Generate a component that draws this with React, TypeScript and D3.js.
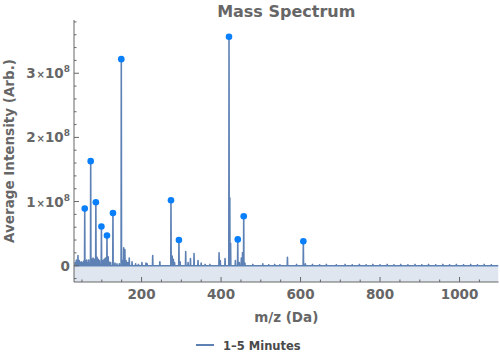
import React from "react";
import * as d3 from "d3";

// Labelled peaks (with markers): m/z and intensity in units of 1e8
const markedMz = [57, 72, 85, 99, 113, 128, 149, 274, 294, 420, 442, 457, 607];
const markedInt = [0.89, 1.63, 0.99, 0.61, 0.47, 0.82, 3.22, 1.02, 0.4, 3.57, 0.41, 0.77, 0.38];

// Smaller peaks / noise (no markers)
const minorMz = [
  33, 36, 40, 43, 46, 48, 52, 54, 60, 62, 65, 67, 75, 78, 81, 88, 91, 94, 103, 106, 109, 116, 118, 122,
  133, 138, 144, 152, 155, 158, 161, 165, 169, 176, 185, 192, 201, 211, 214, 228, 246, 277, 280, 283,
  297, 311, 317, 323, 332, 342, 350, 360, 372, 395, 398, 410, 422, 424, 436, 446, 451, 454, 460, 480,
  505, 520, 535, 548, 567, 590, 612, 630, 648, 665, 690, 712, 730, 748, 765, 782, 800, 818, 835, 852,
  870, 888, 905, 922, 940, 958, 975, 992, 1010, 1028, 1045, 1062, 1080,
];
const minorInt = [
  0.05, 0.09, 0.16, 0.08, 0.05, 0.06, 0.05, 0.07, 0.07, 0.09, 0.05, 0.09, 0.1, 0.12, 0.1, 0.13, 0.1, 0.08, 0.08, 0.1, 0.12, 0.14, 0.06, 0.05,
  0.04, 0.03, 0.03, 0.08, 0.28, 0.25, 0.08, 0.05, 0.12, 0.06, 0.03, 0.02, 0.05, 0.04, 0.03, 0.16, 0.06, 0.15, 0.1, 0.05,
  0.06, 0.22, 0.05, 0.11, 0.19, 0.08, 0.04, 0.02, 0.02, 0.2, 0.08, 0.11, 1.06, 0.35, 0.08, 0.05, 0.12, 0.2, 0.04, 0.02,
  0.03, 0.015, 0.02, 0.015, 0.13, 0.02, 0.03, 0.02, 0.015, 0.02, 0.015, 0.02, 0.015, 0.02, 0.015, 0.02, 0.015, 0.02, 0.015, 0.02,
  0.015, 0.02, 0.015, 0.02, 0.015, 0.02, 0.015, 0.02, 0.015, 0.02, 0.015, 0.02, 0.015,
];

const xTicks = [200, 400, 600, 800, 1000];
const yTicks = [0, 1, 2, 3];
const yTickMant = ["0", "1", "2", "3"];

const title = "Mass Spectrum";
const xTitle = "m/z (Da)";
const yTitle = "Average Intensity (Arb.)";
const legendLabel = "1–5 Minutes";

const W = 500;
const H = 360;
const left = 74;
const right = 498.5;
const top = 20;
const bottom = 282;

const LINE = "#5E81B5";
const DOT = "#0a7ffb";
const GRAY = "#666666";
const FONT = "'DejaVu Sans', sans-serif";

export default function App() {
  const x = d3.scaleLinear().domain([30, 1098]).range([left, right]);
  const y = d3.scaleLinear().domain([-0.254, 3.83]).range([bottom, top]);

  const peaks: [number, number][] = [];
  markedMz.forEach((m, i) => peaks.push([m, markedInt[i]]));
  minorMz.forEach((m, i) => peaks.push([m, minorInt[i]]));
  peaks.sort((a, b) => a[0] - b[0]);
  const pts: [number, number][] = [[30, 0]];
  const hw = 0.55;
  peaks.forEach(([m, v]) => {
    pts.push([m - hw, 0], [m, v], [m + hw, 0]);
  });
  pts.push([1098, 0]);

  const line = d3
    .line<[number, number]>()
    .x((d) => x(d[0]))
    .y((d) => y(d[1]));
  const area = d3
    .area<[number, number]>()
    .x((d) => x(d[0]))
    .y0(bottom)
    .y1((d) => y(d[1]));

  const yMinor = d3.range(-0.2, 3.81, 0.2).filter((v) => Math.abs(v * 5 - Math.round(v)*5) > 0.01);
  const xMinor = d3.range(50, 1098, 50).filter((v) => v % 200 !== 0);

  return (
    <svg width={W} height={H} style={{ position: "absolute", left: 0, top: 0, fontFamily: FONT }}>
      <rect x={0} y={0} width={W} height={H} fill="#fff" />
      <defs>
        <clipPath id="plotclip">
          <rect x={left} y={top} width={right - left} height={bottom - top} />
        </clipPath>
      </defs>
      <g clipPath="url(#plotclip)">
        <path d={area(pts) || ""} fill={LINE} fillOpacity={0.2} stroke="none" />
        <path d={line(pts) || ""} fill="none" stroke={LINE} strokeWidth={1.6} strokeLinejoin="round" />
        {markedMz.map((m, i) => (
          <circle key={i} cx={x(m)} cy={y(markedInt[i])} r={3.3} fill={DOT} />
        ))}
      </g>
      {/* axes */}
      <line x1={left} x2={left} y1={top} y2={bottom} stroke={GRAY} strokeWidth={1} />
      <line x1={left} x2={right} y1={bottom} y2={bottom} stroke={GRAY} strokeWidth={1} />
      {yTicks.map((t) => (
        <line key={"yt" + t} x1={left} x2={left + 5} y1={y(t)} y2={y(t)} stroke={GRAY} />
      ))}
      {yMinor.map((t, i) => (
        <line key={"ym" + i} x1={left} x2={left + 2.5} y1={y(t)} y2={y(t)} stroke={GRAY} />
      ))}
      {xTicks.map((t) => (
        <line key={"xt" + t} x1={x(t)} x2={x(t)} y1={bottom} y2={bottom - 5} stroke={GRAY} />
      ))}
      {xMinor.map((t, i) => (
        <line key={"xm" + i} x1={x(t)} x2={x(t)} y1={bottom} y2={bottom - 2.5} stroke={GRAY} />
      ))}
      {/* tick labels */}
      {xTicks.map((t) => (
        <text key={"xl" + t} x={x(t)} y={299} textAnchor="middle" fontSize={13.5} fontWeight="bold" fill={GRAY}>
          {t}
        </text>
      ))}
      {yTicks.map((t, i) =>
        t === 0 ? (
          <text key={"yl" + t} x={70} y={y(t) + 5} textAnchor="end" fontSize={13.5} fontWeight="bold" fill={GRAY}>
            0
          </text>
        ) : (
          <text key={"yl" + t} x={70} y={y(t) + 5} textAnchor="end" fontSize={13.5} fontWeight="bold" fill={GRAY}>
            <tspan>{yTickMant[i]}</tspan>
            <tspan fontSize={10} dx={1}>×</tspan>
            <tspan>10</tspan>
            <tspan fontSize={9} dy={-6}>8</tspan>
          </text>
        )
      )}
      {/* titles */}
      <text x={(left + right) / 2} y={17} textAnchor="middle" fontSize={16} fontWeight="bold" fill={GRAY}>
        {title}
      </text>
      <text x={(left + right) / 2} y={321.5} textAnchor="middle" fontSize={13.5} fontWeight="bold" fill={GRAY}>
        {xTitle}
      </text>
      <text
        transform={`translate(14,${(top + bottom) / 2}) rotate(-90)`}
        textAnchor="middle"
        fontSize={13.5}
        fontWeight="bold"
        fill={GRAY}
      >
        {yTitle}
      </text>
      {/* legend */}
      <line x1={196} x2={214} y1={345} y2={345} stroke={LINE} strokeWidth={2} />
      <text x={223} y={349.5} fontSize={11.5} fontWeight="bold" fill="#4a4a4a">
        {legendLabel}
      </text>
    </svg>
  );
}
